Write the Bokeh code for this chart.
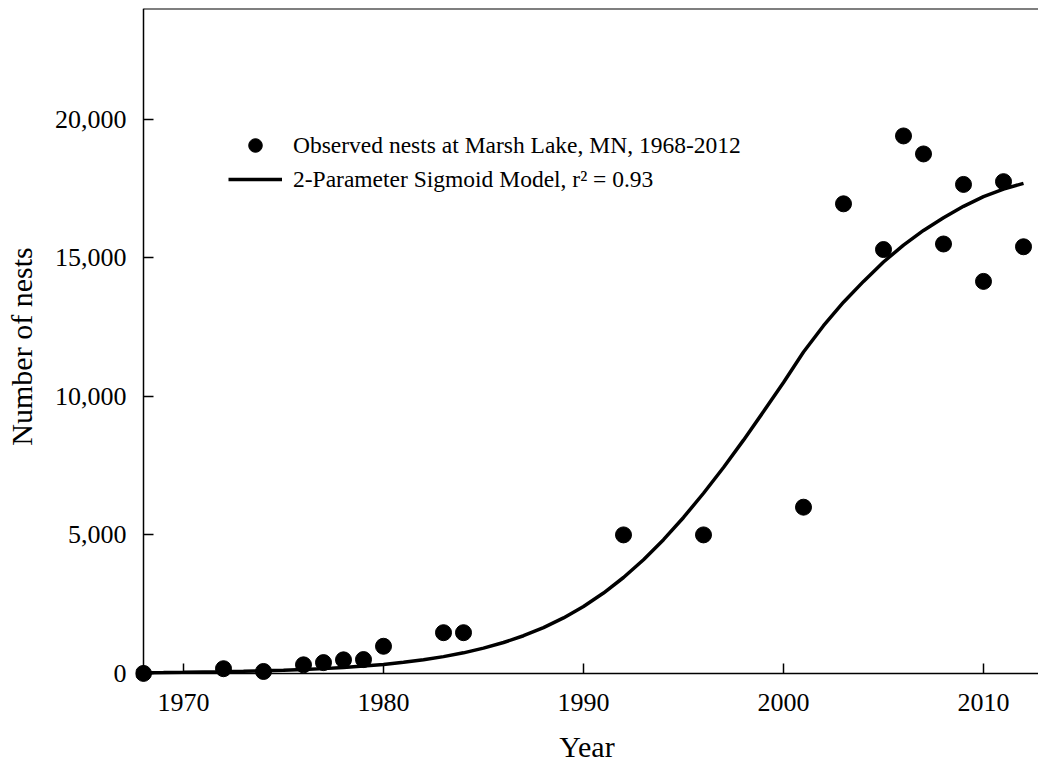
from bokeh.embed import file_html
from bokeh.models import (FixedTicker, Legend, LegendItem, LinearAxis,
                          NumeralTickFormatter, Range1d)
from bokeh.plotting import figure
from bokeh.resources import INLINE

# observed nests at Marsh Lake
obs_years = [1968, 1972, 1974, 1976, 1977, 1978, 1979, 1980, 1983, 1984, 1992,
             1996, 2001, 2003, 2005, 2006, 2007, 2008, 2009, 2010, 2011, 2012]
obs_nests = [0, 170, 70, 310, 390, 490, 500, 980, 1470, 1470, 5000,
             5000, 6000, 16950, 15300, 19400, 18750, 15500, 17650, 14150, 17750, 15400]

# fitted sigmoid at each year
fit_years = list(range(1968, 2013))
fit_nests = [26, 32, 39, 49, 60, 74, 92, 114, 140, 173, 214, 264, 326, 401, 493,
             606, 743, 912, 1115, 1360, 1654, 2004, 2417, 2901, 3462, 4104, 4827,
             5629, 6503, 7431, 8420, 9450, 10500, 11600, 12550, 13400, 14150,
             14850, 15460, 15990, 16450, 16860, 17210, 17480, 17690]

x_ticks = [1970, 1980, 1990, 2000, 2010]
y_ticks = [0, 5000, 10000, 15000, 20000]

FONT = "Liberation Serif"

p = figure(frame_width=903, frame_height=676,
           x_range=Range1d(1967.6, 2012.75), y_range=Range1d(-400, 24000),
           output_backend="svg", toolbar_location=None,
           min_border_left=135, min_border_right=0, min_border_top=8, min_border_bottom=79)
p.outline_line_color = None
p.grid.visible = False
p.background_fill_color = "white"

# side axes: only tick labels and titles
xlab = p.xaxis[0]
ylab = p.yaxis[0]
for ax in (xlab, ylab):
    ax.axis_line_color = None
    ax.major_tick_line_color = None
    ax.minor_tick_line_color = None
    ax.major_label_text_font = FONT
    ax.major_label_text_font_size = "26px"
    ax.major_label_text_color = "black"
    ax.axis_label_text_font = FONT
    ax.axis_label_text_font_size = "30px"
    ax.axis_label_text_font_style = "normal"
    ax.axis_label_text_color = "black"
xlab.ticker = FixedTicker(ticks=x_ticks)
ylab.ticker = FixedTicker(ticks=y_ticks)
ylab.formatter = NumeralTickFormatter(format="0,0")
xlab.axis_label = "Year"
ylab.axis_label = "Number of nests"
xlab.major_label_standoff = 3
ylab.major_label_standoff = 3
xlab.axis_label_standoff = 16
ylab.axis_label_standoff = 14

# axis lines crossing at the origin, ticks pointing inwards, plus the top rule
xline = LinearAxis(fixed_location=0, bounds=(1968, 2012.75), ticker=FixedTicker(ticks=x_ticks))
yline = LinearAxis(fixed_location=1968, bounds=(0, 24000), ticker=FixedTicker(ticks=y_ticks))
topline = LinearAxis(fixed_location=24000, bounds=(1968, 2012.75), ticker=FixedTicker(ticks=[]))
for ax in (xline, yline, topline):
    ax.axis_line_color = "black"
    ax.axis_line_width = 1.5
    ax.major_tick_line_color = "black"
    ax.major_tick_line_width = 1.5
    ax.major_tick_in = 10
    ax.major_tick_out = 0
    ax.minor_tick_line_color = None
    ax.major_label_text_color = None
topline.axis_line_width = 2
p.add_layout(xline, "below")
p.add_layout(yline, "left")
p.add_layout(topline, "above")

curve = p.line(fit_years, fit_nests, line_color="black", line_width=3.5)
dots = p.scatter(obs_years, obs_nests, size=16, color="black")

legend = Legend(items=[
    LegendItem(label="Observed nests at Marsh Lake, MN, 1968-2012", renderers=[dots]),
    LegendItem(label="2-Parameter Sigmoid Model, r\u00b2 = 0.93", renderers=[curve]),
], location=(93, 488))
legend.border_line_color = None
legend.background_fill_alpha = 0
legend.padding = 0
legend.margin = 0
legend.spacing = 0
legend.glyph_width = 54
legend.glyph_height = 34
legend.label_height = 34
legend.label_standoff = 11
legend.label_text_font = FONT
legend.label_text_font_size = "23.5px"
legend.label_text_color = "black"
p.add_layout(legend)

open("out.html", "w").write(file_html(p, INLINE))
